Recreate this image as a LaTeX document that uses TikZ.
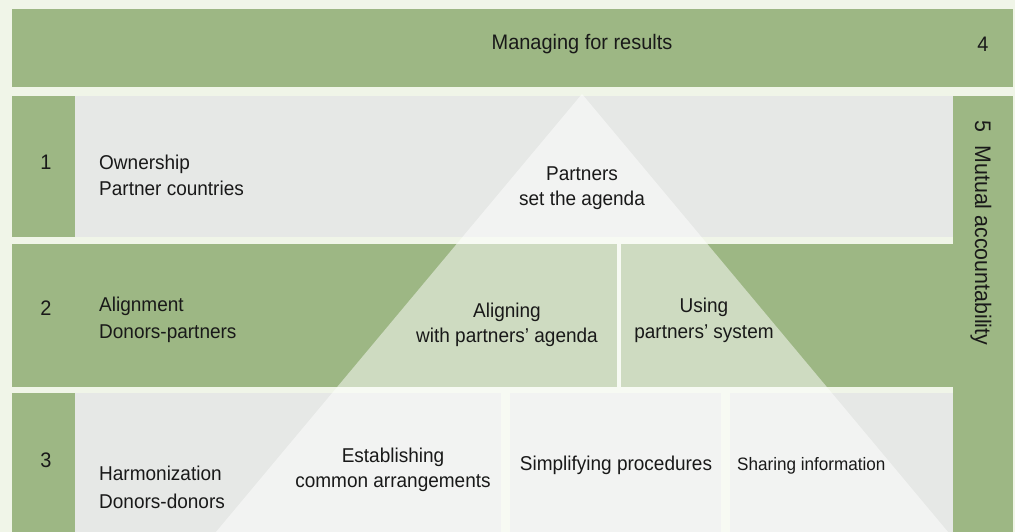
\documentclass[tikz,border=0pt]{standalone}
\usepackage{fontspec}
\setmainfont{Liberation Sans}[FakeStretch=0.95]
\usepackage{tikz}
\usetikzlibrary{positioning}

\definecolor{leaf}{RGB}{157,183,132}
\definecolor{stone}{RGB}{230,232,230}
\definecolor{paper}{RGB}{240,245,232}
\definecolor{ink}{RGB}{25,25,25}

\tikzset{
box/.style 2 args={minimum width=#1, minimum height=#2, anchor=north west, inner sep=0pt, outer sep=0pt}, % a cell, placed by its top left corner
band/.style={fill=leaf}, % green bars and number cells
panel/.style={fill=stone}, % grey cells
veil/.style={fill=white, fill opacity=0.5}, % the pale pyramid laid over the rows
word/.style={text=ink, inner sep=0pt, font=\fontsize{20}{24}\selectfont}, % every text
num/.style={word, anchor=base, font=\fontsize{21}{24}\selectfont}, % row numbers
head/.style={word, anchor=base west}, % row titles, left aligned
mid/.style={word, anchor=base}, % centred texts
}

\begin{document}
\begin{tikzpicture}[x=1pt, y=-1pt]
    \useasboundingbox[fill=paper] (0,0) rectangle (1015,532);

    % bars
    \node[band, box={1001}{78}] (results) at (12,9) {};
    \node[band, box={60}{436}] (account) at (953,96) {};

    % row 1
    \node[band, box={63}{141}] (c1) at (12,96) {};
    \node[panel, box={878}{141}] (owncell) at (75,96) {};

    % row 2
    \node[band, box={63}{143}] (c2) at (12,244) {};
    \node[band, box={548.5}{143}] (aligncell) at (68,244) {};
    \node[band, box={332}{143}] (usecell) at (621,244) {};

    % row 3
    \node[band, box={63}{139}] (c3) at (12,393) {};
    \node[panel, box={426}{139}] (harmcell) at (75,393) {};
    \node[panel, box={211.5}{139}] (simpcell) at (509.5,393) {};
    \node[panel, box={223}{139}] (sharecell) at (730,393) {};

    % pyramid
    \coordinate (apex) at (582,94);
    \coordinate (baseR) at (948,532);
    \coordinate (baseL) at (216,532);
    \fill[veil] (apex) -- (baseR) -- (baseL) -- cycle;

    % texts
    \node[mid, font=\fontsize{21}{24}\selectfont] (mfr) at (582,49.3) {Managing for results};
    \node[num] (n4) at (983,52) {4};
    \node[word, font=\fontsize{22.5}{24}\selectfont, rotate=-90, anchor=west] (mutual) at (981,120) {5\hspace{0.6em}Mutual accountability};

    \node[num] (n1) at (46,170) {1};
    \node[head] (own) at (99,169) {Ownership};
    \node[head, yshift=-26] (ownsub) at (own.base west) {Partner countries};
    \node[mid] (partners) at (582,180.7) {Partners};
    \node[mid, yshift=-25] (agenda) at (partners.base) {set the agenda};

    \node[num] (n2) at (46,315) {2};
    \node[head] (align) at (99,311) {Alignment};
    \node[head, yshift=-27] (alignsub) at (align.base west) {Donors-partners};
    \node[mid] (aligning) at (507,317) {Aligning};
    \node[mid, yshift=-25] (withp) at (aligning.base) {with partners’ agenda};
    \node[mid] (using) at (704,312) {Using};
    \node[mid, yshift=-26] (system) at (using.base) {partners’ system};

    \node[num] (n3) at (46,467) {3};
    \node[head] (harm) at (99,480) {Harmonization};
    \node[head, yshift=-28] (harmsub) at (harm.base west) {Donors-donors};
    \node[mid] (estab) at (393,462) {Establishing};
    \node[mid, yshift=-25] (common) at (estab.base) {common arrangements};
    \node[mid] (simp) at (616,470) {Simplifying procedures};
    \node[head, font=\fontsize{18}{22}\selectfont] (share) at (737,470) {Sharing information};

  \end{tikzpicture}
\end{document}
